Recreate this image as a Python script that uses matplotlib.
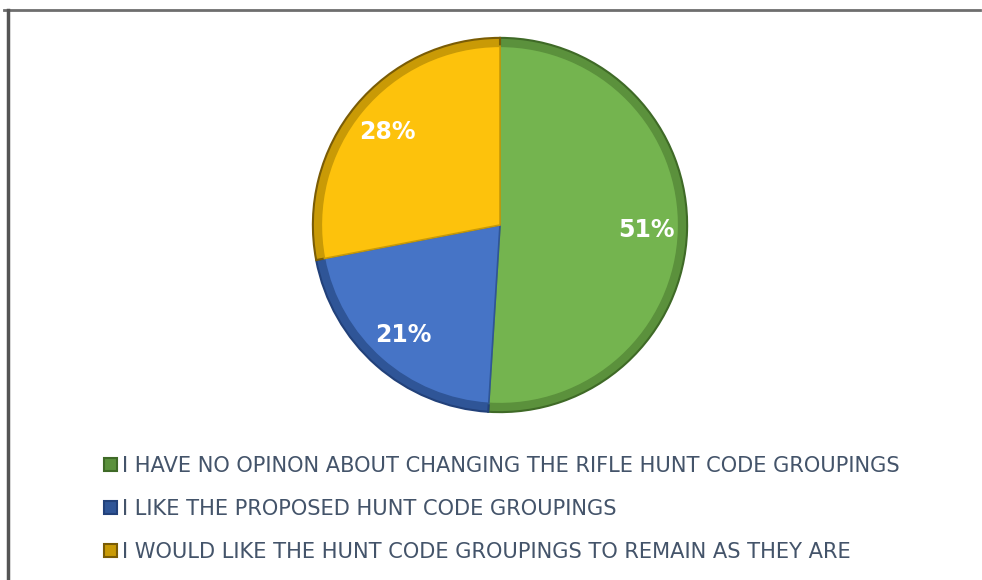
import matplotlib
matplotlib.use("Agg")
import matplotlib.pyplot as plt
from matplotlib.lines import Line2D

categories = [
    "I HAVE NO OPINON ABOUT CHANGING THE RIFLE HUNT CODE GROUPINGS",
    "I LIKE THE PROPOSED HUNT CODE GROUPINGS",
    "I WOULD LIKE THE HUNT CODE GROUPINGS TO REMAIN AS THEY ARE",
]
shares = [51, 21, 28]
colors = ["#74b44f", "#4674c6", "#fdc20c"]
rims = ["#5b913c", "#2f5597", "#c99a06"]
edges = ["#3f6a27", "#22417a", "#7a5c05"]

W, H = 982, 580
fig = plt.figure(figsize=(W / 100, H / 100), dpi=100)

# pie centre (500, 225) px, radius 189 px
cx, cy, r = 500, 225, 189
ax = fig.add_axes([(cx - r) / W, (H - cy - r) / H, 2 * r / W, 2 * r / H])

# darker outer rim, to suggest the bevel
rim_wedges, _ = ax.pie(
    shares, colors=rims, startangle=90, counterclock=False, radius=1.0,
    wedgeprops=dict(linewidth=1.5),
)
for w, e in zip(rim_wedges, edges):
    w.set_edgecolor(e)

wedges, texts, autotexts = ax.pie(
    shares, colors=colors, startangle=90, counterclock=False, radius=0.955,
    autopct="%d%%", pctdistance=0.82,
    wedgeprops=dict(linewidth=1.2),
    textprops=dict(color="white", fontsize=17, fontweight="bold"),
)
for w, e in zip(wedges, rims):
    w.set_edgecolor(e)
ax.set_xlim(-1.01, 1.01)
ax.set_ylim(-1.01, 1.01)
ax.set_aspect("equal")
ax.axis("off")

# outer frame (top and left only visible)
fig.add_artist(Line2D([4 / W, 980 / W], [1 - 9.5 / H, 1 - 9.5 / H],
                      transform=fig.transFigure, color="#6e6e6e", linewidth=2))
fig.add_artist(Line2D([7.5 / W, 7.5 / W], [1 - 9.5 / H, 0],
                      transform=fig.transFigure, color="#555555", linewidth=2.5))

leg = fig.legend(
    rim_wedges, categories, loc="upper left",
    bbox_to_anchor=(104 / W, 1 - 456 / H),
    frameon=False, fontsize=15.1, labelcolor="#44546a",
    handlelength=0.6, handleheight=0.6, handletextpad=0.25,
    labelspacing=1.1, borderpad=0, borderaxespad=0,
)

fig.savefig("out.png", dpi=100, facecolor="white")
